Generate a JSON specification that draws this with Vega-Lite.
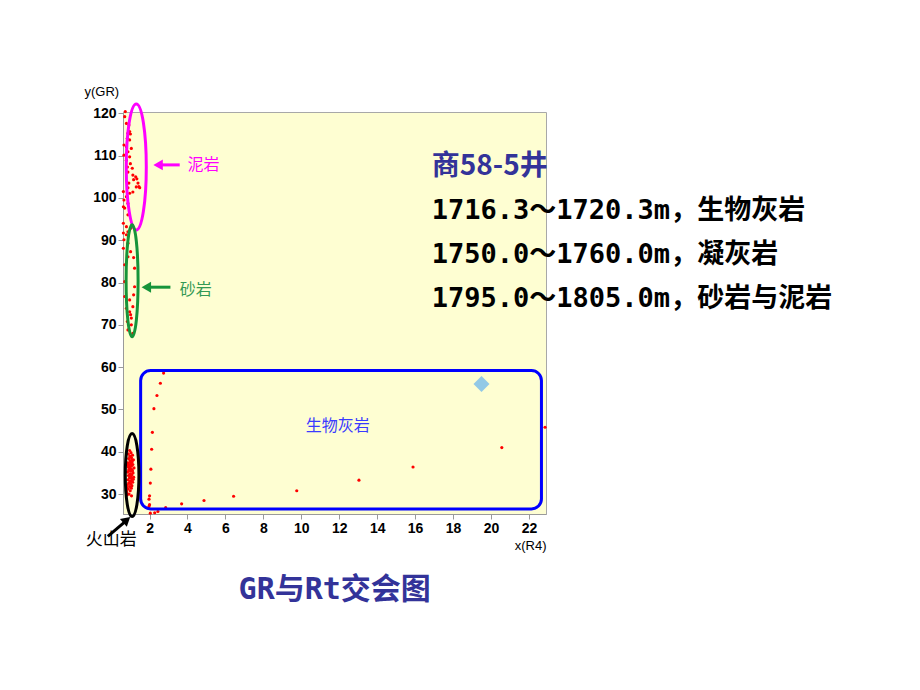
{
  "$schema": "https://vega.github.io/schema/vega-lite/v6.json",
  "width": 423,
  "height": 402,
  "autosize": {"type": "none"},
  "padding": {"left": 123, "top": 112, "right": 374, "bottom": 176},
  "background": "#ffffff",
  "config": {
    "view": {"fill": "#fefed2", "stroke": "#a8a8a8"},
    "axis": {
      "grid": false,
      "domainColor": "#9a9a9a",
      "tickColor": "#9a9a9a",
      "tickSize": 5,
      "labelPadding": 2,
      "labelFont": "Liberation Sans",
      "labelFontWeight": "bold",
      "labelFontSize": 14,
      "labelColor": "#000000",
      "titleFont": "Liberation Sans",
      "titleFontWeight": "normal",
      "titleFontSize": 13,
      "titleColor": "#000000"
    }
  },
  "datasets": {
    "points": [
      {"x": 0.72, "y": 120.4}, {"x": 0.69, "y": 119.2}, {"x": 0.78, "y": 117.6}, {"x": 0.91, "y": 117.2},
      {"x": 0.95, "y": 115.7}, {"x": 0.86, "y": 115.3}, {"x": 0.99, "y": 115.1}, {"x": 0.83, "y": 114.1},
      {"x": 0.95, "y": 113.7}, {"x": 0.65, "y": 112.5}, {"x": 0.78, "y": 112.1}, {"x": 1.04, "y": 111.7},
      {"x": 0.86, "y": 110.9}, {"x": 0.65, "y": 110.1}, {"x": 0.95, "y": 109.7}, {"x": 0.78, "y": 108.9},
      {"x": 0.99, "y": 108.1}, {"x": 0.83, "y": 107.3}, {"x": 1.09, "y": 107.0}, {"x": 0.86, "y": 106.1},
      {"x": 1.12, "y": 105.4}, {"x": 1.27, "y": 105.0}, {"x": 1.33, "y": 104.5}, {"x": 1.16, "y": 104.3},
      {"x": 1.39, "y": 103.5}, {"x": 1.44, "y": 102.7}, {"x": 1.30, "y": 102.6}, {"x": 1.48, "y": 102.4},
      {"x": 0.91, "y": 103.5}, {"x": 0.86, "y": 102.4}, {"x": 0.95, "y": 101.1}, {"x": 1.12, "y": 101.4},
      {"x": 0.78, "y": 100.3}, {"x": 0.62, "y": 101.5}, {"x": 0.62, "y": 97.9}, {"x": 0.65, "y": 99.5},
      {"x": 0.86, "y": 98.7}, {"x": 0.69, "y": 97.6}, {"x": 0.86, "y": 96.0}, {"x": 0.62, "y": 94.0},
      {"x": 0.78, "y": 93.2}, {"x": 0.86, "y": 92.0}, {"x": 1.0, "y": 92.8}, {"x": 0.62, "y": 91.7},
      {"x": 0.78, "y": 91.3}, {"x": 0.65, "y": 90.1}, {"x": 0.86, "y": 89.3}, {"x": 0.62, "y": 88.1},
      {"x": 1.0, "y": 87.3}, {"x": 0.86, "y": 86.1}, {"x": 1.16, "y": 85.9}, {"x": 0.69, "y": 84.2},
      {"x": 1.21, "y": 83.4}, {"x": 0.69, "y": 80.2}, {"x": 1.21, "y": 79.0}, {"x": 1.16, "y": 77.1},
      {"x": 0.69, "y": 76.7}, {"x": 0.95, "y": 75.9}, {"x": 1.12, "y": 74.3}, {"x": 0.78, "y": 73.9},
      {"x": 0.95, "y": 73.1}, {"x": 1.0, "y": 72.4}, {"x": 1.04, "y": 71.6}, {"x": 0.83, "y": 70.8},
      {"x": 1.04, "y": 70.0}, {"x": 0.86, "y": 68.8}, {"x": 1.12, "y": 68.0},
      {"x": 0.95, "y": 40.3}, {"x": 1.02, "y": 39.8}, {"x": 0.88, "y": 39.5}, {"x": 1.10, "y": 39.2},
      {"x": 0.98, "y": 38.9}, {"x": 1.05, "y": 38.6}, {"x": 0.90, "y": 38.4}, {"x": 1.15, "y": 38.1},
      {"x": 0.97, "y": 37.9}, {"x": 1.08, "y": 37.6}, {"x": 0.85, "y": 37.4}, {"x": 1.00, "y": 37.2},
      {"x": 1.12, "y": 37.0}, {"x": 0.93, "y": 36.8}, {"x": 1.04, "y": 36.6}, {"x": 0.88, "y": 36.4},
      {"x": 1.18, "y": 36.2}, {"x": 0.99, "y": 36.0}, {"x": 1.07, "y": 35.8}, {"x": 0.91, "y": 35.6},
      {"x": 1.02, "y": 35.4}, {"x": 0.84, "y": 35.2}, {"x": 1.13, "y": 35.0}, {"x": 0.96, "y": 34.8},
      {"x": 1.06, "y": 34.6}, {"x": 0.89, "y": 34.4}, {"x": 1.01, "y": 34.2}, {"x": 1.16, "y": 34.0},
      {"x": 0.94, "y": 33.8}, {"x": 1.09, "y": 33.6}, {"x": 0.86, "y": 33.4}, {"x": 1.03, "y": 33.2},
      {"x": 0.97, "y": 33.0}, {"x": 1.11, "y": 32.8}, {"x": 0.90, "y": 32.6}, {"x": 1.00, "y": 32.4},
      {"x": 0.83, "y": 32.2}, {"x": 1.07, "y": 32.0}, {"x": 0.95, "y": 31.8}, {"x": 0.80, "y": 31.6},
      {"x": 1.04, "y": 31.4}, {"x": 0.88, "y": 31.2}, {"x": 0.78, "y": 31.0}, {"x": 0.98, "y": 30.8},
      {"x": 0.79, "y": 30.5}, {"x": 0.80, "y": 30.2}, {"x": 0.92, "y": 30.0}, {"x": 0.81, "y": 29.8},
      {"x": 1.05, "y": 29.6}, {"x": 1.00, "y": 37.5}, {"x": 0.95, "y": 36.3}, {"x": 1.10, "y": 35.5},
      {"x": 1.00, "y": 34.5}, {"x": 0.92, "y": 35.9}, {"x": 1.06, "y": 37.0}, {"x": 1.14, "y": 33.5},
      {"x": 0.96, "y": 39.0}, {"x": 1.08, "y": 38.0}, {"x": 0.87, "y": 36.9}, {"x": 1.02, "y": 33.9},
      {"x": 2.74, "y": 58.6}, {"x": 2.57, "y": 56.2}, {"x": 2.39, "y": 53.3}, {"x": 2.23, "y": 50.2},
      {"x": 2.15, "y": 44.6}, {"x": 2.11, "y": 40.6}, {"x": 2.07, "y": 35.9}, {"x": 2.04, "y": 32.6},
      {"x": 2.0, "y": 29.6}, {"x": 1.97, "y": 28.8}, {"x": 2.0, "y": 27.5}, {"x": 1.97, "y": 27.1},
      {"x": 2.04, "y": 25.5}, {"x": 2.27, "y": 25.6}, {"x": 2.44, "y": 25.9}, {"x": 2.85, "y": 26.8},
      {"x": 3.69, "y": 27.7}, {"x": 4.87, "y": 28.5}, {"x": 6.43, "y": 29.5}, {"x": 9.76, "y": 30.8},
      {"x": 13.04, "y": 33.3}, {"x": 15.89, "y": 36.4}, {"x": 20.57, "y": 41.0}, {"x": 22.85, "y": 45.8}
    ]
  },
  "layer": [
    {
      "data": {"name": "points"},
      "mark": {"type": "circle", "color": "#ff0000", "size": 10, "opacity": 1},
      "encoding": {
        "x": {
          "field": "x", "type": "quantitative",
          "scale": {"domain": [0.6, 22.9], "nice": false, "zero": false},
          "axis": {
            "values": [2, 4, 6, 8, 10, 12, 14, 16, 18, 20, 22],
            "title": "x(R4)", "titleAnchor": "end", "titleAlign": "right",
            "titleX": 423, "titleY": 31, "titleBaseline": "middle"
          }
        },
        "y": {
          "field": "y", "type": "quantitative",
          "scale": {"domain": [25.3, 120.3], "nice": false, "zero": false},
          "axis": {
            "values": [30, 40, 50, 60, 70, 80, 90, 100, 110, 120],
            "title": "y(GR)", "titleAngle": 0, "titleAlign": "left",
            "titleX": -39, "titleY": -21, "titleBaseline": "middle"
          }
        }
      }
    },
    {
      "data": {"values": [{"x1": 1.53, "x2": 22.66, "y1": 26.5, "y2": 59.2}]},
      "mark": {"type": "rect", "fill": null, "stroke": "#0000ff", "strokeWidth": 3, "cornerRadius": 10},
      "encoding": {
        "x": {"field": "x1", "type": "quantitative"},
        "x2": {"field": "x2"},
        "y": {"field": "y1", "type": "quantitative"},
        "y2": {"field": "y2"}
      }
    },
    {
      "data": {"values": [{"x": 19.5, "y": 56.0}]},
      "mark": {"type": "point", "shape": "diamond", "filled": true, "color": "#92c9e6", "opacity": 1, "size": 256},
      "encoding": {
        "x": {"field": "x", "type": "quantitative"},
        "y": {"field": "y", "type": "quantitative"}
      }
    },
    {
      "data": {"values": [{"x": 1.30, "y": 107.3}]},
      "mark": {"type": "point", "filled": false, "stroke": "#ff00ff", "strokeWidth": 3, "opacity": 1, "size": 15876,
        "shape": "M0,-1C0.0878,-1,0.159,-0.5523,0.159,0C0.159,0.5523,0.0878,1,0,1C-0.0878,1,-0.159,0.5523,-0.159,0C-0.159,-0.5523,-0.0878,-1,0,-1Z"},
      "encoding": {
        "x": {"field": "x", "type": "quantitative"},
        "y": {"field": "y", "type": "quantitative"}
      }
    },
    {
      "data": {"values": [{"x": 1.08, "y": 80.4}]},
      "mark": {"type": "point", "filled": false, "stroke": "#16943a", "strokeWidth": 3, "opacity": 1, "size": 12544,
        "shape": "M0,-1C0.0591,-1,0.107,-0.5523,0.107,0C0.107,0.5523,0.0591,1,0,1C-0.0591,1,-0.107,0.5523,-0.107,0C-0.107,-0.5523,-0.0591,-1,0,-1Z"},
      "encoding": {
        "x": {"field": "x", "type": "quantitative"},
        "y": {"field": "y", "type": "quantitative"}
      }
    },
    {
      "data": {"values": [{"x": 1.08, "y": 34.5}]},
      "mark": {"type": "point", "filled": false, "stroke": "#000000", "strokeWidth": 3, "opacity": 1, "size": 6889,
        "shape": "M0,-1C0.0906,-1,0.164,-0.5523,0.164,0C0.164,0.5523,0.0906,1,0,1C-0.0906,1,-0.164,0.5523,-0.164,0C-0.164,-0.5523,-0.0906,-1,0,-1Z"},
      "encoding": {
        "x": {"field": "x", "type": "quantitative"},
        "y": {"field": "y", "type": "quantitative"}
      }
    },
    {
      "data": {"values": [{"x1": 2.45, "x2": 3.59, "y": 107.8}]},
      "mark": {"type": "rule", "color": "#ff00ff", "strokeWidth": 3},
      "encoding": {
        "x": {"field": "x1", "type": "quantitative"},
        "x2": {"field": "x2"},
        "y": {"field": "y", "type": "quantitative"}
      }
    },
    {
      "data": {"values": [{"x": 2.45, "y": 107.8}]},
      "mark": {"type": "point", "shape": "triangle-left", "filled": true, "color": "#ff00ff", "opacity": 1, "size": 120},
      "encoding": {
        "x": {"field": "x", "type": "quantitative"},
        "y": {"field": "y", "type": "quantitative"}
      }
    },
    {
      "data": {"values": [{"x1": 1.83, "x2": 3.10, "y": 78.9}]},
      "mark": {"type": "rule", "color": "#16943a", "strokeWidth": 3},
      "encoding": {
        "x": {"field": "x1", "type": "quantitative"},
        "x2": {"field": "x2"},
        "y": {"field": "y", "type": "quantitative"}
      }
    },
    {
      "data": {"values": [{"x": 1.83, "y": 78.9}]},
      "mark": {"type": "point", "shape": "triangle-left", "filled": true, "color": "#16943a", "opacity": 1, "size": 120},
      "encoding": {
        "x": {"field": "x", "type": "quantitative"},
        "y": {"field": "y", "type": "quantitative"}
      }
    },
    {
      "data": {"values": [{"x1": -0.2, "y1": 20.0, "x2": 0.79, "y2": 23.8}]},
      "mark": {"type": "rule", "color": "#000000", "strokeWidth": 3},
      "encoding": {
        "x": {"field": "x1", "type": "quantitative"},
        "x2": {"field": "x2"},
        "y": {"field": "y1", "type": "quantitative"},
        "y2": {"field": "y2"}
      }
    },
    {
      "data": {"values": [{"x": 0.8, "y": 23.9}]},
      "mark": {"type": "point", "shape": "triangle-up", "filled": true, "color": "#000000", "opacity": 1, "size": 110, "angle": 49},
      "encoding": {
        "x": {"field": "x", "type": "quantitative"},
        "y": {"field": "y", "type": "quantitative"}
      }
    },
    {
      "data": {"values": [{"x": 4.0, "y": 107.8, "label": "泥岩"}]},
      "mark": {"type": "text", "align": "left", "baseline": "middle", "font": "Noto Sans CJK SC", "fontSize": 16, "color": "#ff00ff"},
      "encoding": {
        "x": {"field": "x", "type": "quantitative"},
        "y": {"field": "y", "type": "quantitative"},
        "text": {"field": "label"}
      }
    },
    {
      "data": {"values": [{"x": 3.59, "y": 78.2, "label": "砂岩"}]},
      "mark": {"type": "text", "align": "left", "baseline": "middle", "font": "Noto Sans CJK SC", "fontSize": 16, "color": "#339955"},
      "encoding": {
        "x": {"field": "x", "type": "quantitative"},
        "y": {"field": "y", "type": "quantitative"},
        "text": {"field": "label"}
      }
    },
    {
      "data": {"values": [{"x": 10.23, "y": 46.0, "label": "生物灰岩"}]},
      "mark": {"type": "text", "align": "left", "baseline": "middle", "font": "Noto Sans CJK SC", "fontSize": 16, "color": "#3a3aff"},
      "encoding": {
        "x": {"field": "x", "type": "quantitative"},
        "y": {"field": "y", "type": "quantitative"},
        "text": {"field": "label"}
      }
    },
    {
      "data": {"values": [{"x": -0.02, "y": 19.2, "label": "火山岩"}]},
      "mark": {"type": "text", "align": "center", "baseline": "middle", "font": "Noto Sans CJK SC", "fontSize": 17, "color": "#000000"},
      "encoding": {
        "x": {"field": "x", "type": "quantitative"},
        "y": {"field": "y", "type": "quantitative"},
        "text": {"field": "label"}
      }
    },
    {
      "data": {"values": [{"x": 16.88, "y": 107.3, "label": "商58-5井"}]},
      "mark": {"type": "text", "align": "left", "baseline": "middle", "font": "Noto Sans CJK SC", "fontWeight": "bold", "fontSize": 28, "color": "#333399"},
      "encoding": {
        "x": {"field": "x", "type": "quantitative"},
        "y": {"field": "y", "type": "quantitative"},
        "text": {"field": "label"}
      }
    },
    {
      "data": {"values": [
        {"x": 16.88, "y": 96.8, "label": "1716.3～1720.3m，生物灰岩"},
        {"x": 16.88, "y": 86.4, "label": "1750.0～1760.0m，凝灰岩"},
        {"x": 16.88, "y": 76.0, "label": "1795.0～1805.0m，砂岩与泥岩"}
      ]},
      "mark": {"type": "text", "align": "left", "baseline": "middle", "font": "DejaVu Sans Mono, Noto Sans CJK SC", "fontWeight": "bold", "fontSize": 27, "color": "#000000"},
      "encoding": {
        "x": {"field": "x", "type": "quantitative"},
        "y": {"field": "y", "type": "quantitative"},
        "text": {"field": "label"}
      }
    },
    {
      "data": {"values": [{"x": 11.76, "y": 7.4, "label": "GR与Rt交会图"}]},
      "mark": {"type": "text", "align": "center", "baseline": "middle", "font": "DejaVu Sans Mono, Noto Sans CJK SC", "fontWeight": "bold", "fontSize": 30, "color": "#333399"},
      "encoding": {
        "x": {"field": "x", "type": "quantitative"},
        "y": {"field": "y", "type": "quantitative"},
        "text": {"field": "label"}
      }
    }
  ]
}
